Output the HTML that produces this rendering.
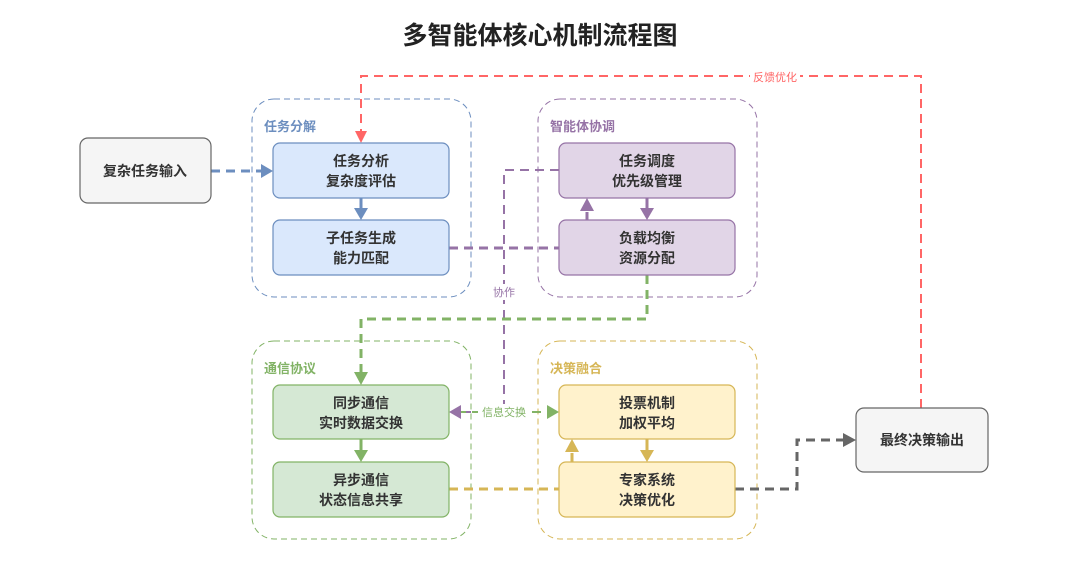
<!DOCTYPE html><html><head><meta charset="utf-8"><style>
body{margin:0;background:#fff;width:1080px;height:566px;overflow:hidden;font-family:"Liberation Sans","Noto Sans CJK SC",sans-serif}
</style></head><body>
<svg width="1080" height="566" xmlns="http://www.w3.org/2000/svg" font-family="Liberation Sans, Noto Sans CJK SC, sans-serif">
<defs>
<marker id="mb" markerWidth="8" markerHeight="8" refX="7" refY="4" orient="auto" markerUnits="userSpaceOnUse" viewBox="0 0 8 8"><path d="M0,0L8,4L0,8L2,4Z" fill="#6c8ebf"/></marker>
</defs>
<text x="540" y="44" text-anchor="middle" font-size="25" font-weight="bold" fill="#222">多智能体核心机制流程图</text>
<g fill="none" stroke-dasharray="6,4" stroke-width="1">
<rect x="252" y="99" width="219" height="198" rx="22" stroke="#6c8ebf"/>
<rect x="538" y="99" width="219" height="198" rx="22" stroke="#9673a6"/>
<rect x="252" y="341" width="219" height="198" rx="22" stroke="#82b366"/>
<rect x="538" y="341" width="219" height="198" rx="22" stroke="#d6b656"/>
</g>
<g font-size="13" font-weight="bold">
<text x="264" y="131" fill="#6c8ebf">任务分解</text>
<text x="550" y="131" fill="#9673a6">智能体协调</text>
<text x="264" y="373" fill="#82b366">通信协议</text>
<text x="550" y="373" fill="#d6b656">决策融合</text>
</g>
<g stroke-width="3" fill="none" stroke-dasharray="9,6">
<path d="M921 408V76H361V136" stroke="#ff6666" stroke-width="2"/>
<path d="M211 171H264" stroke="#6c8ebf"/>
<path d="M449 248H587V206" stroke="#9673a6"/>
<path d="M559 170H504V412H457" stroke="#9673a6" stroke-width="2"/>
<path d="M647 275V319H361V377" stroke="#82b366"/>
<path d="M457 412H551" stroke="#82b366" stroke-width="2"/>
<path d="M449 489H572V447" stroke="#d6b656"/>
<path d="M735 489H797V440H848" stroke="#666"/>
</g>
<rect x="478" y="404" width="52" height="16" fill="#fff"/>
<text x="504" y="416" text-anchor="middle" font-size="11" fill="#82b366">信息交换</text>
<rect x="490" y="284" width="28" height="16" fill="#fff"/>
<text x="504" y="296" text-anchor="middle" font-size="11" fill="#9673a6">协作</text>
<rect x="750" y="70" width="50" height="14" fill="#fff"/>
<text x="775" y="81" text-anchor="middle" font-size="11" fill="#ff6666">反馈优化</text>
<g>
<path d="M355 131L361 143L367 131Z" fill="#ff6666"/>
<path d="M261 164L273 171L261 178Z" fill="#6c8ebf"/>
<path d="M580 211L587 198L594 211Z" fill="#9673a6"/>
<path d="M461 405L449 412L461 419Z" fill="#9673a6"/>
<path d="M547 405L559 412L547 419Z" fill="#82b366"/>
<path d="M354 372L361 385L368 372Z" fill="#82b366"/>
<path d="M565 452L572 439L579 452Z" fill="#d6b656"/>
<path d="M843 433L856 440L843 447Z" fill="#666"/>
</g>
<g stroke-width="3">
<path d="M361 198V212" stroke="#6c8ebf"/><path d="M354 208L361 220L368 208Z" fill="#6c8ebf"/>
<path d="M647 198V212" stroke="#9673a6"/><path d="M640 208L647 220L654 208Z" fill="#9673a6"/>
<path d="M361 439V454" stroke="#82b366"/><path d="M354 450L361 462L368 450Z" fill="#82b366"/>
<path d="M647 439V454" stroke="#d6b656"/><path d="M640 450L647 462L654 450Z" fill="#d6b656"/>
</g>
<g stroke-width="1.2">
<rect x="80" y="138" width="131" height="65" rx="8" fill="#f5f5f5" stroke="#666"/>
<rect x="856" y="408" width="132" height="64" rx="8" fill="#f5f5f5" stroke="#666"/>
<rect x="273" y="143" width="176" height="55" rx="7" fill="#dae8fc" stroke="#6c8ebf"/>
<rect x="273" y="220" width="176" height="55" rx="7" fill="#dae8fc" stroke="#6c8ebf"/>
<rect x="559" y="143" width="176" height="55" rx="7" fill="#e1d5e7" stroke="#9673a6"/>
<rect x="559" y="220" width="176" height="55" rx="7" fill="#e1d5e7" stroke="#9673a6"/>
<rect x="273" y="385" width="176" height="54" rx="7" fill="#d5e8d4" stroke="#82b366"/>
<rect x="273" y="462" width="176" height="55" rx="7" fill="#d5e8d4" stroke="#82b366"/>
<rect x="559" y="385" width="176" height="54" rx="7" fill="#fff2cc" stroke="#d6b656"/>
<rect x="559" y="462" width="176" height="55" rx="7" fill="#fff2cc" stroke="#d6b656"/>
</g>
<g font-size="14" font-weight="bold" fill="#333" text-anchor="middle">
<text x="145" y="176">复杂任务输入</text>
<text x="922" y="445">最终决策输出</text>
<text x="361" y="166">任务分析</text><text x="361" y="186">复杂度评估</text>
<text x="361" y="243">子任务生成</text><text x="361" y="263">能力匹配</text>
<text x="647" y="166">任务调度</text><text x="647" y="186">优先级管理</text>
<text x="647" y="243">负载均衡</text><text x="647" y="263">资源分配</text>
<text x="361" y="408">同步通信</text><text x="361" y="428">实时数据交换</text>
<text x="361" y="485">异步通信</text><text x="361" y="505">状态信息共享</text>
<text x="647" y="408">投票机制</text><text x="647" y="428">加权平均</text>
<text x="647" y="485">专家系统</text><text x="647" y="505">决策优化</text>
</g>
</svg>
</body></html>
